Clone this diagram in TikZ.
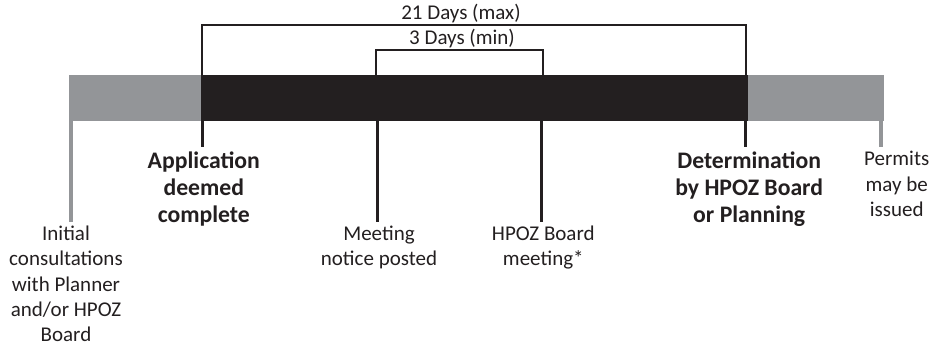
\documentclass[tikz,border=0pt]{standalone}
\usepackage{fontspec}
\setmainfont{Carlito}
\usepackage{tikz}
\definecolor{bargray}{RGB}{147,149,152}
\definecolor{barblack}{RGB}{35,31,32}

\begin{document}
\begin{tikzpicture}[x=0.02cm,y=-0.02cm,
    lbl/.style={anchor=north,align=center,inner sep=0.08cm,text=barblack,font=\fontsize{11.95pt}{14.4pt}\selectfont},
    lblbold/.style={lbl,font=\fontsize{13.5pt}{15.4pt}\selectfont\bfseries},
    bracket/.style={draw=barblack,line width=0.04cm},
    pointer/.style={draw=barblack,line width=0.066cm},
    graypointer/.style={draw=bargray,line width=0.09cm}]
    \useasboundingbox (0,0) rectangle (932,350);
    \coordinate (maxl) at (202,75);
    \coordinate (maxr) at (746.3,75);
    \coordinate (minl) at (376.3,75);
    \coordinate (minr) at (543,75);
    \coordinate (initial) at (71,121);
    \coordinate (appl) at (202.5,121);
    \coordinate (notice) at (377.7,121);
    \coordinate (board) at (541.8,121);
    \coordinate (determ) at (745.8,121);
    \coordinate (permit) at (881,121);
    \draw[bracket] (maxl) -- ++(0,-50) -| (maxr);
    \draw[bracket] (minl) -- ++(0,-25) -| (minr);
    \node[lbl,anchor=base] (maxtext) at (461,19.5) {21 Days (max)};
    \node[lbl,anchor=base] (mintext) at (462,45) {3 Days (min)};
    \fill[bargray] (69,75) rectangle (884,121);
    \fill[barblack] (201,75) rectangle (748,121);
    \node[lbl] (initialtext) at (66,221.7) {Initial\\consultations\\with Planner\\and/or HPOZ\\Board};
    \node[lblbold] (appltext) at (203.8,147) {Application\\deemed\\complete};
    \node[lbl] (noticetext) at (379,221.7) {Meeting\\notice posted};
    \node[lbl] (boardtext) at (543.3,221.7) {HPOZ Board\\meeting*};
    \node[lblbold] (determtext) at (749.2,147) {Determination\\by HPOZ Board\\or Planning};
    \node[lbl] (permittext) at (896.7,147) {Permits\\may be\\issued};
    \draw[graypointer] (initial) -- (initial |- initialtext.north);
    \draw[pointer] (appl) -- (appl |- appltext.north);
    \draw[pointer] (notice) -- (notice |- noticetext.north);
    \draw[pointer] (board) -- (board |- boardtext.north);
    \draw[pointer] (determ) -- (determ |- determtext.north);
    \draw[graypointer] (permit) -- (permit |- permittext.north);
\end{tikzpicture}
\end{document}
